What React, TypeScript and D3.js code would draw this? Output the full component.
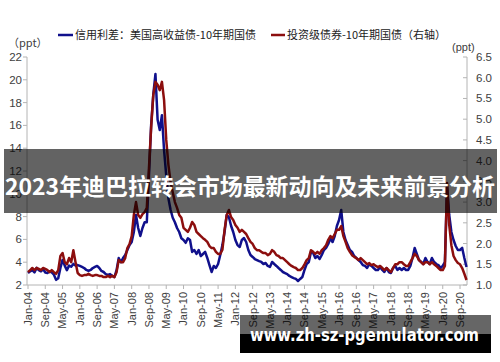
import React from 'react';
import * as d3 from 'd3';

// monthly readings, Jan-04 .. Dec-20
const hyValues = [
  3.05, 3.2, 3.3, 3.1, 3.5, 3.3, 3.2, 3.4, 3.1, 3.05, 3.2, 3.1,
  2.9, 2.45, 2.6, 3.5, 4.2, 3.7, 3.3, 3.7, 3.6, 3.85, 3.7, 3.75,
  3.67, 3.58, 3.49, 3.32, 3.23, 3.32, 3.49, 3.58, 3.67, 3.49, 3.23, 3.14,
  2.96, 2.88, 2.96, 2.79, 2.7, 3.3, 4.37, 4.0, 4.37, 4.63, 5.07, 5.5,
  5.77, 6.65, 8.14, 7.0, 6.3, 7.0, 7.5, 7.5, 11.6, 16.0, 18.7, 20.5,
  16.5, 15.6, 16.9, 13.8, 11.6, 9.6, 8.6, 7.9, 7.5, 7.0, 6.65, 6.1,
  5.95, 5.7, 6.1, 5.95, 4.9, 5.07, 4.72, 5.07, 4.54, 4.72, 4.9, 4.37,
  3.75, 3.14, 3.67, 3.49, 3.84, 4.63, 5.5, 6.65, 8.14, 7.96, 7.2, 6.65,
  5.95, 5.5, 5.33, 5.95, 6.12, 5.77, 5.07, 4.63, 4.46, 4.28, 4.19, 4.1,
  4.02, 3.84, 3.93, 3.67, 3.58, 4.02, 3.84, 3.67, 3.49, 3.32, 3.14, 3.05,
  2.96, 2.79, 2.7, 2.61, 2.53, 2.35, 2.53, 2.7, 3.32, 3.84, 4.02, 4.9,
  4.81, 4.37, 4.54, 4.28, 4.63, 5.07, 5.25, 5.6, 6.1, 5.77, 6.3, 7.18,
  7.7, 8.58, 6.65, 5.95, 5.5, 5.07, 4.9, 4.54, 4.37, 4.19, 4.02, 3.75,
  3.67, 3.49, 3.84, 3.67, 3.49, 3.32, 3.32, 3.58, 3.32, 3.14, 3.49, 3.14,
  3.05, 3.49, 3.67, 3.32, 3.49, 3.32, 3.49, 3.32, 3.32, 3.67, 4.37, 5.25,
  4.72, 4.19, 4.02, 3.84, 4.37, 4.02, 3.84, 4.37, 4.02, 3.84, 3.75, 3.49,
  3.67, 4.02, 10.6, 8.14, 6.65, 5.95, 5.42, 5.07, 5.07, 5.25, 4.37, 3.58,
];

const igValues = [
  1.31, 1.36, 1.41, 1.36, 1.41, 1.39, 1.36, 1.41, 1.39, 1.36, 1.31, 1.36,
  1.31, 1.27, 1.36, 1.7, 1.77, 1.55, 1.5, 1.65, 1.55, 1.84, 1.55, 1.29,
  1.24, 1.22, 1.24, 1.24, 1.27, 1.24, 1.22, 1.24, 1.24, 1.22, 1.22, 1.19,
  1.19, 1.22, 1.19, 1.22, 1.19, 1.31, 1.6, 1.55, 1.55, 1.65, 1.89, 1.99,
  2.18, 2.69, 3.0, 2.69, 2.62, 2.71, 2.76, 2.86, 3.82, 4.79, 5.58, 5.9,
  5.83, 5.7, 5.9, 5.46, 4.5, 3.9, 3.48, 3.24, 3.0, 2.86, 2.69, 2.62,
  2.38, 2.33, 2.28, 2.38, 2.52, 2.45, 2.28, 2.23, 2.18, 2.13, 2.09, 2.04,
  1.94, 1.89, 1.89, 1.8, 1.75, 1.75, 1.85, 2.33, 2.69, 2.81, 2.64, 2.57,
  2.45, 2.38, 2.28, 2.33, 2.28, 2.23, 2.13, 2.04, 1.99, 1.89, 1.84, 1.84,
  1.8, 1.77, 1.77, 1.72, 1.75, 1.84, 1.8, 1.72, 1.7, 1.65, 1.65, 1.6,
  1.55, 1.5, 1.46, 1.43, 1.41, 1.36, 1.36, 1.41, 1.5, 1.6, 1.65, 1.84,
  1.8, 1.75, 1.8, 1.75, 1.84, 1.89, 1.96, 2.09, 2.18, 2.13, 2.23, 2.33,
  2.33, 2.42, 2.18, 2.04, 1.89, 1.8, 1.72, 1.68, 1.65, 1.6, 1.65, 1.6,
  1.55, 1.5, 1.53, 1.48, 1.5, 1.46, 1.43, 1.46, 1.41, 1.36, 1.41, 1.36,
  1.31, 1.41, 1.5, 1.5, 1.55, 1.55, 1.5, 1.46, 1.46, 1.55, 1.65, 1.75,
  1.7, 1.6, 1.55, 1.5, 1.55, 1.55, 1.5, 1.55, 1.5, 1.46, 1.41, 1.36,
  1.36, 1.46, 3.46, 2.45, 1.96, 1.7, 1.6, 1.53, 1.5, 1.41, 1.27, 1.12,
];

const xTickLabels = [
  'Jan-04', 'Sep-04', 'May-05', 'Jan-06', 'Sep-06', 'May-07', 'Jan-08', 'Sep-08',
  'May-09', 'Jan-10', 'Sep-10', 'May-11', 'Jan-12', 'Sep-12', 'May-13', 'Jan-14',
  'Sep-14', 'May-15', 'Jan-16', 'Sep-16', 'May-17', 'Jan-18', 'Sep-18', 'May-19',
  'Jan-20', 'Sep-20',
];
const leftTicks = [2, 4, 6, 8, 10, 12, 14, 16, 18, 20, 22];
const rightTicks = [1.0, 1.5, 2.0, 2.5, 3.0, 3.5, 4.0, 4.5, 5.0, 5.5, 6.0, 6.5];

const hyLabel = '信用利差：美国高收益债-10年期国债';
const igLabel = '投资级债券-10年期国债（右轴）';
const bannerText = '2023年迪巴拉转会市场最新动向及未来前景分析';
const siteText = 'www.zh-sz-pgemulator.com';

const W = 500;
const H = 362;
const left = 27;
const right = 467;
const top = 57;
const bottom = 285;

const BLUE = '#10108c';
const RED = '#8c0e0e';
const AXIS = '#b4b4b4';
const TEXT = '#404040';
const cjk = '"Noto Sans CJK SC", "Noto Sans", sans-serif';
const latin = '"Liberation Sans", Arial, sans-serif';

export default function App() {
  const x = d3.scaleLinear().domain([0, hyValues.length - 1]).range([28, 466.5]);
  const yL = d3.scaleLinear().domain([2, 22]).range([bottom, top]);
  const yR = d3.scaleLinear().domain([1, 6.5]).range([bottom, top]);

  const hyLine = d3.line<number>().x((_, i) => x(i)).y(d => yL(d));
  const igLine = d3.line<number>().x((_, i) => x(i)).y(d => yR(d));

  return (
    <div style={{ position: 'fixed', left: 0, top: 0 }}>
      <svg width={W} height={H} style={{ display: 'block', background: '#fff' }}>
        {/* legend */}
        <line x1={58} x2={73} y1={35} y2={35} stroke={BLUE} strokeWidth={2.5} />
        <text x={75} y={39} fontFamily={cjk} fontSize={11} fill="#222">{hyLabel}</text>
        <line x1={271} x2={285} y1={35} y2={35} stroke={RED} strokeWidth={2.5} />
        <text x={287} y={39} fontFamily={cjk} fontSize={11} fill="#222">{igLabel}</text>

        <text x={8} y={47} fontFamily={cjk} fontSize={11} fill={TEXT}>（ppt）</text>
        <text x={452} y={51} fontFamily={latin} fontSize={11} fill={TEXT}>(ppt)</text>

        {/* left axis */}
        <line x1={left} x2={left} y1={top} y2={bottom} stroke={AXIS} />
        {leftTicks.map(t => (
          <g key={'l' + t}>
            <line x1={left - 4} x2={left} y1={yL(t)} y2={yL(t)} stroke={AXIS} />
            <text x={22} y={yL(t)} dy="0.35em" textAnchor="end" fontFamily={latin} fontSize={11.5} fill={TEXT}>{t}</text>
          </g>
        ))}

        {/* right axis */}
        <line x1={right} x2={right} y1={top} y2={bottom} stroke={AXIS} />
        {rightTicks.map(t => (
          <g key={'r' + t}>
            <line x1={right - 4} x2={right} y1={yR(t)} y2={yR(t)} stroke={AXIS} />
            <text x={476} y={yR(t)} dy="0.35em" fontFamily={latin} fontSize={11.5} fill={TEXT}>{t.toFixed(1)}</text>
          </g>
        ))}

        {/* bottom axis */}
        <line x1={left} x2={right} y1={bottom} y2={bottom} stroke={AXIS} />
        {xTickLabels.map((lab, i) => {
          const px = x(i * 8);
          return (
            <g key={lab}>
              <line x1={px} x2={px} y1={bottom} y2={bottom + 4} stroke={AXIS} />
              <text
                transform={`translate(${px},${bottom + 7}) rotate(-90)`}
                dy="0.35em"
                textAnchor="end"
                fontFamily={latin}
                fontSize={11}
                fill={TEXT}
              >{lab}</text>
            </g>
          );
        })}

        {/* series */}
        <path d={hyLine(hyValues) || ''} fill="none" stroke={BLUE} strokeWidth={2.5} strokeLinejoin="round" />
        <path d={igLine(igValues) || ''} fill="none" stroke={RED} strokeWidth={2.5} strokeLinejoin="round" />

        {/* overlay banners */}
        <rect x={4} y={149} width={493} height={64} fill="#000" fillOpacity={0.61} />
        <text x={250} y={195} textAnchor="middle" fontFamily={cjk} fontWeight="bold" fontSize={23}
          fill="#fff" textLength={490} lengthAdjust="spacingAndGlyphs">{bannerText}</text>

        <rect x={240} y={315} width={251} height={19} fill="#000" fillOpacity={0.6} />
        <rect x={240} y={334} width={251} height={19} fill="#000" />
        <text x={250} y={341} fontFamily={'"DejaVu Sans", sans-serif'} fontWeight="bold" fontSize={18}
          fill="#fff" textLength={229} lengthAdjust="spacingAndGlyphs">{siteText}</text>
      </svg>
    </div>
  );
}
